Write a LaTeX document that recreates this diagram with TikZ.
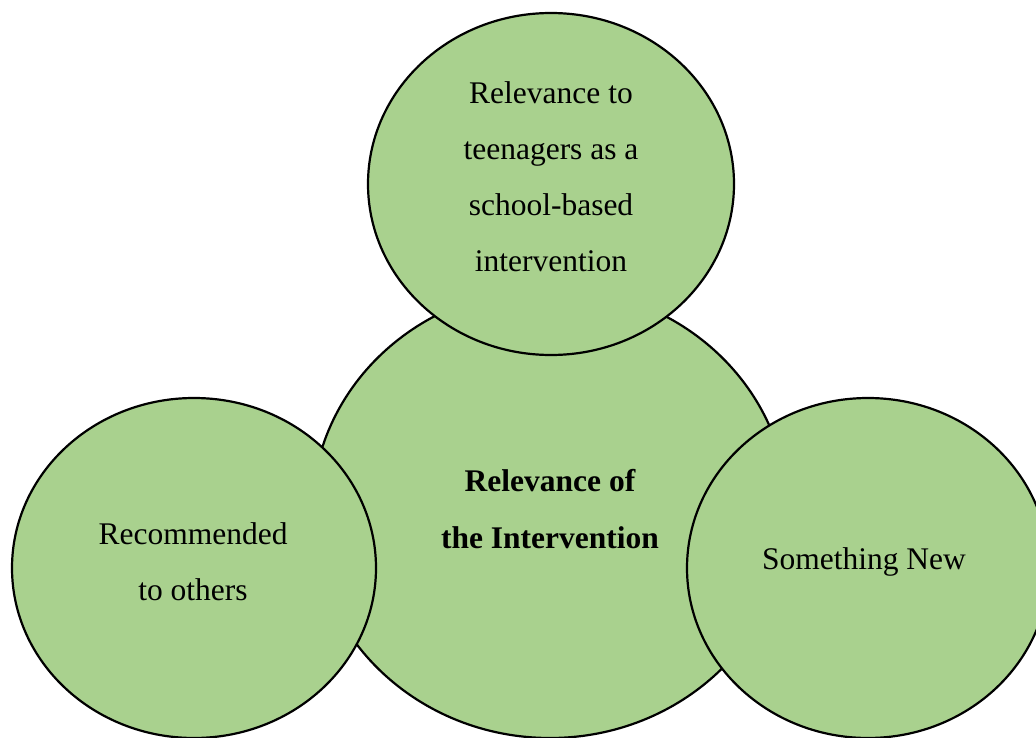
\documentclass[tikz,border=0pt]{standalone}
\usepackage{fontspec}
\setmainfont{Liberation Serif}
\usetikzlibrary{shapes.geometric}
\definecolor{leaf}{HTML}{A9D18E}
\begin{document}
\begin{tikzpicture}[x=1pt,y=-1pt,
  bubble/.style={ellipse, draw=black, line width=2.2pt, fill=leaf, inner sep=0pt},
  label/.style={align=center, text=black, inner sep=0pt,
    font=\fontsize{31.5}{56}\selectfont}]
\useasboundingbox (0,0) rectangle (1036,738);
\clip (0,0) rectangle (1036,738);
\node[bubble, minimum width=476pt, minimum height=450pt] (core) at (550,513) {};
\node[bubble, minimum width=366pt, minimum height=342pt] (top) at (551,184) {};
\node[bubble, minimum width=364pt, minimum height=340pt] (left) at (194,568) {};
\node[bubble, minimum width=362pt, minimum height=340pt] (right) at (868,568) {};
\node[label, font=\fontsize{31.5}{57}\selectfont\bfseries] (coret) at (550,509) {Relevance of\\the Intervention};
\node[label] (topt) at (551,177) {Relevance to\\teenagers as a\\school-based\\intervention};
\node[label] (leftt) at (193,562) {Recommended\\to others};
\node[label] (rightt) at (864,562) {Something New};
\end{tikzpicture}
\end{document}
